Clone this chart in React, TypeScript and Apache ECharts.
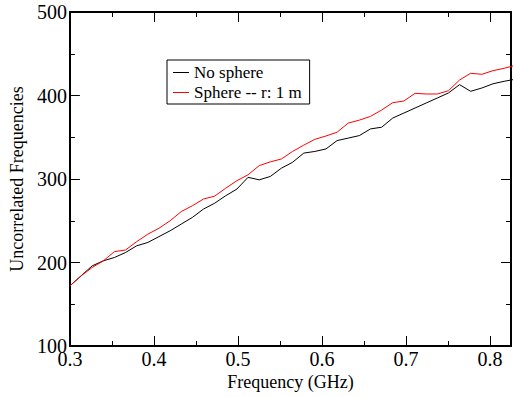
import React, { useEffect, useRef } from "react";
import * as echarts from "echarts";

const freqGHz = [
  0.3, 0.3133, 0.3265, 0.3398, 0.353, 0.3663, 0.3795, 0.3928, 0.406, 0.4193,
  0.4325, 0.4458, 0.459, 0.4723, 0.4855, 0.4988, 0.512, 0.5253, 0.5385, 0.5518,
  0.565, 0.5783, 0.5915, 0.6048, 0.618, 0.6313, 0.6445, 0.6578, 0.671, 0.6843,
  0.6975, 0.7108, 0.724, 0.7373, 0.7505, 0.7638, 0.777, 0.7903, 0.8035, 0.8168,
  0.83,
];

const noSphere = [
  172, 184, 196, 202, 206, 212, 220, 224, 231, 238,
  246, 254, 264, 271, 280, 288, 302, 299, 303, 313,
  320, 331, 333, 336, 346, 349, 352, 360, 362, 373,
  379, 385, 391, 397, 403, 413, 405, 409, 414, 417,
  419.5,
];

const sphere1m = [
  172, 184, 194, 202, 213, 215, 225, 234, 241, 250,
  261, 268, 276, 279.5, 289, 298, 305, 316, 320.5, 324,
  333, 340.5, 347.5, 351.5, 356, 367, 370.5, 375, 382.6, 391.4,
  393.4, 402.6, 401.8, 401.8, 405.7, 418.6, 426.6, 425.4, 429.7, 432.6,
  436,
];

const seriesNames = ["No sphere", "Sphere -- r: 1 m"];
const xTitle = "Frequency (GHz)";
const yTitle = "Uncorrelated Frequencies";

const FONT = "'Times New Roman', Times, 'Liberation Serif', serif";

export default function App() {
  const ref = useRef<HTMLDivElement>(null);
  useEffect(() => {
    if (!ref.current) return;
    const chart = echarts.init(ref.current, null, { renderer: "svg" });
    const xMin = 0.3, xMax = 0.825, yMin = 100, yMax = 500;
    const axisLine = { show: true, lineStyle: { color: "#000", width: 2 } };
    const majX = { type: "value", min: xMin, max: xMax, interval: 0.1 };
    const minX = { type: "value", min: xMin, max: xMax, interval: 0.05 };
    const majY = { type: "value", min: yMin, max: yMax, interval: 100 };
    const minY = { type: "value", min: yMin, max: yMax, interval: 50 };
    const noLabel = { show: false };
    const noSplit = { show: false };
    chart.setOption({
      animation: false,
      textStyle: { fontFamily: FONT },
      grid: { left: 68, right: 3, top: 12, bottom: 51, containLabel: false },
      legend: {
        orient: "vertical",
        left: 167,
        top: 60,
        backgroundColor: "#fff",
        borderColor: "#000",
        borderWidth: 1,
        borderRadius: 0,
        padding: [4, 8, 3, 6],
        itemGap: 3,
        itemWidth: 16,
        itemHeight: 14,
        textStyle: { fontFamily: FONT, fontSize: 17, color: "#000", padding: [0, 0, 0, 0] },
        data: seriesNames.map((n) => ({ name: n, icon: "path://M0,1 L16,1 L16,2 L0,2 Z" })),
      },
      xAxis: [
        {
          ...majX,
          position: "bottom",
          axisLine,
          axisTick: { show: true, inside: true, length: 10, lineStyle: { color: "#000", width: 1 } },
          axisLabel: { show: true, margin: 6, lineHeight: 13, fontFamily: FONT, fontSize: 20, color: "#000", showMaxLabel: false },
          splitLine: noSplit,
          name: xTitle,
          nameLocation: "middle",
          nameGap: 26,
          nameTextStyle: { fontFamily: FONT, fontSize: 18, color: "#000" },
        },
        {
          ...minX,
          position: "bottom",
          axisLine: { show: false },
          axisTick: { show: true, inside: true, length: 5, lineStyle: { color: "#000", width: 1 } },
          axisLabel: noLabel,
          splitLine: noSplit,
        },
        {
          ...majX,
          position: "top",
          axisLine,
          axisTick: { show: true, inside: true, length: 10, lineStyle: { color: "#000", width: 1 } },
          axisLabel: noLabel,
          splitLine: noSplit,
        },
        {
          ...minX,
          position: "top",
          axisLine: { show: false },
          axisTick: { show: true, inside: true, length: 5, lineStyle: { color: "#000", width: 1 } },
          axisLabel: noLabel,
          splitLine: noSplit,
        },
      ],
      yAxis: [
        {
          ...majY,
          position: "left",
          axisLine,
          axisTick: { show: true, inside: true, length: 10, lineStyle: { color: "#000", width: 1 } },
          axisLabel: { show: true, margin: 3, lineHeight: 12, fontFamily: FONT, fontSize: 20, color: "#000" },
          splitLine: noSplit,
          name: yTitle,
          nameLocation: "middle",
          nameGap: 40,
          nameTextStyle: { fontFamily: FONT, fontSize: 18, color: "#000" },
        },
        {
          ...minY,
          position: "left",
          axisLine: { show: false },
          axisTick: { show: true, inside: true, length: 5, lineStyle: { color: "#000", width: 1 } },
          axisLabel: noLabel,
          splitLine: noSplit,
        },
        {
          ...majY,
          position: "right",
          axisLine,
          axisTick: { show: true, inside: true, length: 10, lineStyle: { color: "#000", width: 1 } },
          axisLabel: noLabel,
          splitLine: noSplit,
        },
        {
          ...minY,
          position: "right",
          axisLine: { show: false },
          axisTick: { show: true, inside: true, length: 5, lineStyle: { color: "#000", width: 1 } },
          axisLabel: noLabel,
          splitLine: noSplit,
        },
      ],
      series: [
        {
          name: seriesNames[0],
          type: "line",
          xAxisIndex: 0,
          yAxisIndex: 0,
          data: freqGHz.map((f, i) => [f, noSphere[i]]),
          showSymbol: false,
          symbol: "none",
          clip: true,
          lineStyle: { color: "#000", width: 1 },
          itemStyle: { color: "#000" },
        },
        {
          name: seriesNames[1],
          type: "line",
          xAxisIndex: 0,
          yAxisIndex: 0,
          data: freqGHz.map((f, i) => [f, sphere1m[i]]),
          showSymbol: false,
          symbol: "none",
          clip: true,
          lineStyle: { color: "#ff0000", width: 1 },
          itemStyle: { color: "#ff0000" },
        },
      ],
    });
    return () => chart.dispose();
  }, []);
  return <div ref={ref} style={{ width: 514, height: 397, position: "absolute", left: 0, top: 0 }} />;
}
